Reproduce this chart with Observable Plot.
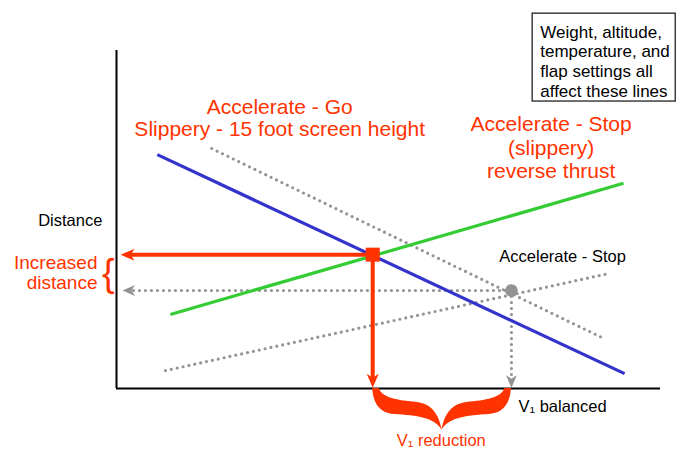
<!DOCTYPE html>
<html>
<head>
<meta charset="utf-8">
<script src="https://cdn.jsdelivr.net/npm/d3@7"></script>
<script src="https://cdn.jsdelivr.net/npm/@observablehq/plot@0.6"></script>
<style>
  html, body { margin: 0; padding: 0; background: #fff; }
</style>
</head>
<body>
<div id="chart"></div>
<script>
// ---- Data (conceptual units: speed 0–100 on x, distance 0–100 on y) ----
const lineNames = [
  "Accelerate - Go (slippery, 15 ft screen height)",
  "Accelerate - Stop (slippery, reverse thrust)",
  "Accelerate - Go (dry)",
  "Accelerate - Stop (dry)"
];
const lineX1 = [7.5, 9.9, 17.5, 9.0];
const lineY1 = [69.2, 21.9, 71.0, 5.3];
const lineX2 = [93.4, 93.2, 89.2, 90.4];
const lineY2 = [4.4, 60.7, 15.1, 34.0];

const balanceNames = ["Slippery balanced point", "Dry balanced point"];
const balanceX = [47.1, 72.6];
const balanceY = [39.6, 29.0];

const axisTipX = [0.75, 1.1];  // where the horizontal arrows meet the distance axis
const axisTipY = [0.2, 0.2];   // where the vertical arrows meet the speed axis

const labelGo = ["Accelerate - Go", "Slippery - 15 foot screen height"];
const labelStopSlippery = ["Accelerate - Stop", "(slippery)", "reverse thrust"];
const labelStop = ["Accelerate - Stop"];
const labelDistance = ["Distance"];
const labelIncreased = ["Increased", "distance"];
const labelBalanced = ["V\u2081 balanced"];
const labelReduction = ["V\u2081 reduction"];
const noteLines = ["Weight, altitude,", "temperature, and", "flap settings all", "affect these lines"];

// ---- Build tables ----
const lines = lineNames.map((name, i) => ({name, x1: lineX1[i], y1: lineY1[i], x2: lineX2[i], y2: lineY2[i]}));
const solidLines = lines.slice(0, 2);
const dottedLines = lines.slice(2);
const points = balanceNames.map((name, i) => ({name, x: balanceX[i], y: balanceY[i], tx: axisTipX[i], ty: axisTipY[i]}));
const slippery = [points[0]];
const dry = [points[1]];

const RED = "#ff3300", BLUE = "#3333cc", GREEN = "#33cc33", GRAY = "#939393";

// custom arrowhead symbols (tip at the origin)
const headLeft = {
  draw(ctx, size) {
    const s = Math.sqrt(size / Math.PI) / 10;
    ctx.moveTo(0, 0);
    ctx.lineTo(14 * s, -6 * s);
    ctx.lineTo(10 * s, 0);
    ctx.lineTo(14 * s, 6 * s);
    ctx.closePath();
  }
};
const headDown = {
  draw(ctx, size) {
    const s = Math.sqrt(size / Math.PI) / 10;
    ctx.moveTo(0, 0);
    ctx.lineTo(-6 * s, -14 * s);
    ctx.lineTo(0, -10 * s);
    ctx.lineTo(6 * s, -14 * s);
    ctx.closePath();
  }
};

// curly brace under the speed axis, between the two V1 values
function braceMark(index, scales, values, dimensions) {
  const sx = typeof scales.x === "function" ? scales.x : d3.scaleLinear([0, 100], [116, 660]);
  const sy = typeof scales.y === "function" ? scales.y : d3.scaleLinear([0, 100], [388, 50]);
  const xa = sx(balanceX[0]), xb = sx(balanceX[1]), y0 = sy(0);
  const w = xb - xa, h = w / 2;
  function half(X) {
    const Y = v => y0 + v;
    return `M${X(0)},${Y(0)}` +
      `C${X(1)},${Y(15)} ${X(7)},${Y(25)} ${X(22)},${Y(26)}` +
      `C${X(45)},${Y(27.5)} ${X(h - 8)},${Y(29)} ${X(h)},${Y(41.5)}` +
      `C${X(h - 2.5)},${Y(27)} ${X(h - 9.5)},${Y(16)} ${X(h - 24.5)},${Y(14)}` +
      `C${X(25)},${Y(12)} ${X(10)},${Y(10)} ${X(6.5)},${Y(0)}Z`;
  }
  const d = half(v => xa + v) + half(v => xb - v);
  return d3.create("svg:path").attr("d", d).attr("fill", RED).node();
}

const font = "'Liberation Sans', Arial, Helvetica, sans-serif";

const chart = Plot.plot({
  width: 677,
  height: 450,
  marginLeft: 116,
  marginRight: 17,
  marginTop: 50,
  marginBottom: 62,
  x: {domain: [0, 100], axis: null},
  y: {domain: [0, 100], axis: null},
  style: {fontFamily: font, background: "#fff", overflow: "visible"},
  marks: [
    // dotted dry-runway lines
    Plot.link(dottedLines, {x1: "x1", y1: "y1", x2: "x2", y2: "y2", stroke: GRAY, strokeWidth: 3.2, strokeDasharray: "0,6", strokeLinecap: "round"}),
    // dotted projection arrows from the dry balanced point
    Plot.arrow(dry, {x1: "x", y1: "y", x2: "tx", y2: "y", insetEnd: 9, headLength: 0, stroke: GRAY, strokeWidth: 3.2, strokeDasharray: "0,6", strokeLinecap: "round"}),
    Plot.arrow(dry, {x1: "x", y1: "y", x2: "x", y2: "ty", insetEnd: 9, headLength: 0, stroke: GRAY, strokeWidth: 3.2, strokeDasharray: "0,6", strokeLinecap: "round"}),
    Plot.dot(dry, {x: "tx", y: "y", symbol: headLeft, r: 9, fill: GRAY}),
    Plot.dot(dry, {x: "x", y: "ty", symbol: headDown, r: 9, fill: GRAY}),
    // solid slippery lines
    Plot.link([solidLines[1]], {x1: "x1", y1: "y1", x2: "x2", y2: "y2", stroke: GREEN, strokeWidth: 3.2}),
    Plot.link([solidLines[0]], {x1: "x1", y1: "y1", x2: "x2", y2: "y2", stroke: BLUE, strokeWidth: 3.2}),
    // axes
    Plot.ruleX([0], {y1: 0, y2: 100, stroke: "#000", strokeWidth: 2}),
    Plot.ruleY([0], {x1: 0, x2: 100, stroke: "#000", strokeWidth: 2}),
    // red projection arrows
    Plot.arrow(slippery, {x1: "x", y1: "y", x2: "tx", y2: "y", insetEnd: 10, headLength: 0, stroke: RED, strokeWidth: 4}),
    Plot.arrow(slippery, {x1: "x", y1: "y", x2: "x", y2: "ty", insetEnd: 10, headLength: 0, stroke: RED, strokeWidth: 4}),
    Plot.dot(slippery, {x: "tx", y: "y", symbol: headLeft, r: 10, fill: RED}),
    Plot.dot(slippery, {x: "x", y: "ty", symbol: headDown, r: 10, fill: RED}),
    // balanced points
    Plot.dot(slippery, {x: "x", y: "y", symbol: "square", r: 7.9, fill: RED}),
    Plot.dot(dry, {x: "x", y: "y", r: 6.3, fill: GRAY}),
    // brace
    braceMark,
    // labels
    Plot.text([labelGo.join("\n")], {x: () => 30.0, y: () => 80.0, fill: RED, fontSize: 21, lineHeight: 1.03, textAnchor: "middle"}),
    Plot.text([labelStopSlippery.join("\n")], {x: () => 79.9, y: () => 71.4, fill: RED, fontSize: 21, lineHeight: 1.12, textAnchor: "middle"}),
    Plot.text(labelStop, {x: () => 82.0, y: () => 39.1, fill: "#000", fontSize: 16.5, textAnchor: "middle"}),
    Plot.text(labelDistance, {x: () => -2.6, y: () => 49.7, fill: "#000", fontSize: 16.5, textAnchor: "end"}),
    Plot.text([labelIncreased.join("\n")], {x: () => -3.5, y: () => 34.3, fill: RED, fontSize: 19, lineHeight: 1.05, textAnchor: "end"}),
    Plot.text(["{"], {x: () => -1.5, y: () => 34.0, fill: RED, fontSize: 38, textAnchor: "middle"}),
    Plot.text(labelBalanced, {x: () => 73.9, y: () => -5.3, fill: "#000", fontSize: 16.5, textAnchor: "start"}),
    Plot.text(labelReduction, {x: () => 59.7, y: () => -15.4, fill: RED, fontSize: 16.5, textAnchor: "middle"}),
    // note box
    Plot.rect([noteLines], {x1: () => 76.5, x2: () => 102.8, y1: () => 84.9, y2: () => 110.9, fill: "#fff", stroke: "#222", strokeWidth: 1.3}),
    Plot.text([noteLines.join("\n")], {x: () => 77.9, y: () => 96.9, fill: "#000", fontSize: 17, lineHeight: 1.16, textAnchor: "start"})
  ]
});
document.getElementById("chart").appendChild(chart);
</script>
</body>
</html>
